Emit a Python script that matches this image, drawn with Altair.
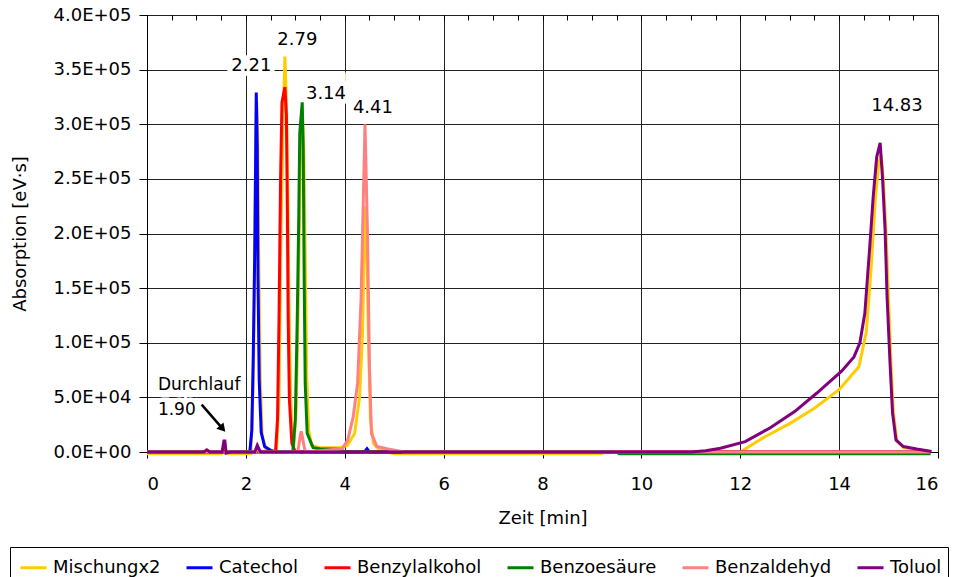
import altair as alt
import pandas as pd

SERIES = ["Mischungx2", "Catechol", "Benzylalkohol", "Benzoesäure", "Benzaldehyd", "Toluol"]
COLORS = ["#FFCC00", "#0000FF", "#FF0000", "#008000", "#FF8080", "#800080"]

# Mischungx2
mix_t = [0.0, 1.50, 1.55, 1.57, 1.60, 1.65, 2.10, 2.15, 2.18, 2.20, 2.22, 2.24, 2.26, 2.29, 2.33, 2.40,
         2.62, 2.67, 2.71, 2.75, 2.79, 2.82, 2.85, 2.87, 2.90, 2.93, 2.97, 3.02, 3.06, 3.10, 3.14, 3.17,
         3.20, 3.23, 3.27, 3.33, 3.50, 3.90, 4.05, 4.20, 4.30, 4.36, 4.40, 4.42, 4.45, 4.48, 4.52, 4.58,
         4.70, 5.00, 9.20, 9.25, 12.00, 12.50, 13.00, 13.50, 14.00, 14.40, 14.55, 14.65, 14.73, 14.80, 14.85,
         14.89, 14.95, 15.00, 15.05, 15.10, 15.17, 15.30, 15.60, 15.85]
mix_v = [-1500, -1500, 6000, 10000, 0, -1500, -1500, 60000, 180000, 290000, 320000, 290000, 180000, 70000, 15000, 3000,
         0, 50000, 200000, 300000, 362000, 320000, 230000, 140000, 60000, 20000, 5000, 40000, 140000, 260000, 310000, 280000,
         180000, 70000, 20000, 6000, 4000, 4000, 6000, 17000, 50000, 110000, 200000, 225000, 180000, 100000, 30000, 8000,
         2000, -1500, -1500, 0, 0, 14000, 26000, 40000, 57000, 78000, 110000, 170000, 230000, 264000, 272000,
         252000, 200000, 140000, 80000, 35000, 10000, 4000, 2000, 500]

# Catechol
cat_t = [0.0, 2.08, 2.12, 2.15, 2.18, 2.20, 2.21, 2.23, 2.245, 2.27, 2.31, 2.38, 2.50, 2.60, 4.40, 4.45, 4.50, 15.85]
cat_v = [0, 0, 20000, 90000, 185000, 280000, 329000, 280000, 160000, 65000, 18000, 5000, 1500, 0, 0, 3000, 0, 0]

# Benzylalkohol
bzl_t = [0.0, 2.60, 2.64, 2.67, 2.70, 2.73, 2.79, 2.82, 2.84, 2.855, 2.88, 2.93, 2.99, 3.05, 15.85]
bzl_v = [0, 0, 30000, 120000, 245000, 320000, 334000, 308000, 216000, 124000, 48000, 8000, 1000, 0, 0]

# Benzoesäure
bzs_t = [0.0, 2.95, 3.00, 3.04, 3.07, 3.09, 3.14, 3.16, 3.18, 3.20, 3.24, 3.36, 3.50, 3.90, 4.00, 9.50, 9.55, 15.85]
bzs_v = [0, 0, 30000, 124000, 216000, 292000, 320000, 277000, 155000, 63000, 17000, 4000, 3000, 2500, 0, 0, -1500, -1500]

# Benzaldehyd
bzd_t = [0.0, 2.20, 2.24, 2.28, 3.05, 3.10, 3.12, 3.15, 3.20, 3.95, 4.06, 4.17, 4.26, 4.33, 4.36, 4.41,
         4.46, 4.50, 4.54, 4.65, 4.85, 5.20, 15.85]
bzd_v = [0, 0, 5000, 0, 0, 15000, 19000, 12000, 0, 3000, 11000, 32000, 63000, 140000, 200000, 300000,
         200000, 78000, 17000, 5000, 3000, 0, 0]

# Toluol
tol_t = [0.0, 1.15, 1.21, 1.27, 1.52, 1.555, 1.575, 1.60, 1.68, 2.18, 2.23, 2.26, 2.30, 11.00, 11.30, 11.60,
         12.10, 12.60, 13.10, 13.55, 14.05, 14.30, 14.42, 14.52, 14.62, 14.69, 14.76, 14.83, 14.88, 14.93,
         14.97, 15.03, 15.08, 15.15, 15.30, 15.57, 15.87]
tol_v = [0, 0, 2000, 0, 0, 10000, 10000, -1000, 0, 0, 6000, 3000, 0, 0, 1200, 3400,
         9500, 22000, 37000, 54000, 74000, 87000, 100000, 127000, 188000, 234000, 270000, 283000, 249000, 203000,
         142000, 81000, 36000, 11000, 5000, 2700, 500]

series_t = [mix_t, cat_t, bzl_t, bzs_t, bzd_t, tol_t]
series_v = [mix_v, cat_v, bzl_v, bzs_v, bzd_v, tol_v]

# Peak labels
peak_text = ["2.21", "2.79", "3.14", "4.41", "14.83"]
peak_t = [2.11, 3.04, 3.62, 4.57, 15.17]
peak_v = [353000, 377000, 328000, 315000, 317000]

# Durchlauf annotation
note_text = ["Durchlauf", "1.90"]
note_t = [0.22, 0.22]
note_v = [61000, 38700]
arrow_t = [1.106, 1.511]
arrow_v = [43300, 22300]

x_major = [0, 2, 4, 6, 8, 10, 12, 14, 16]
x_minor = [i * 0.5 for i in range(33)]
y_ticks = [i * 50000 for i in range(9)]

rows = []
for s, ts, vs in zip(SERIES, series_t, series_v):
    for i, (t, v) in enumerate(zip(ts, vs)):
        rows.append({"series": s, "t": t, "v": v, "i": i})
df = pd.DataFrame(rows)

FONT = "DejaVu Sans"
xscale = alt.Scale(domain=[0, 16], nice=False, zero=False)
yscale = alt.Scale(domain=[0, 400000], nice=False)

xaxis = alt.Axis(values=x_major, format="d", grid=True, gridColor="#222222", gridWidth=1,
                 domainColor="#000000", tickColor="#000000", tickSize=6, labelFontSize=18,
                 labelFont=FONT, labelColor="#000000", labelPadding=17, title="Zeit [min]",
                 titleFont=FONT, titleFontSize=18, titleFontWeight="normal", titleColor="#000000",
                 titlePadding=16)
yaxis = alt.Axis(values=y_ticks, grid=True, gridColor="#222222", gridWidth=1,
                 labelExpr="replace(format(datum.value, '.1e'), 'e+', 'E+0')",
                 domainColor="#000000", tickColor="#000000", tickSize=8, labelFontSize=18,
                 labelFont=FONT, labelColor="#000000", labelPadding=8, title="Absorption [eV·s]",
                 titleFont=FONT, titleFontSize=18, titleFontWeight="normal", titleColor="#000000",
                 titlePadding=24)

legend = alt.Legend(orient="none", legendX=-137, legendY=532, direction="horizontal",
                    title=" ", titleOrient="left", titleFont=FONT, titleFontSize=18, titlePadding=3,
                    symbolType="stroke", symbolSize=676, symbolStrokeWidth=3, labelFont=FONT,
                    labelFontSize=18, labelColor="#000000", labelOffset=5, columnPadding=19,
                    strokeColor="#000000", padding=6, fillColor="#FFFFFF")

layers = []
for s in SERIES:
    layers.append(
        alt.Chart(df).transform_filter(alt.datum.series == s)
        .mark_line(strokeWidth=3)
        .encode(
            x=alt.X("t:Q", scale=xscale, axis=xaxis),
            y=alt.Y("v:Q", scale=yscale, axis=yaxis),
            color=alt.Color("series:N", scale=alt.Scale(domain=SERIES, range=COLORS), legend=legend),
            order="i:Q",
        )
    )

peak_df = pd.DataFrame({"label": peak_text, "t": peak_t, "v": peak_v})
peak_halo = alt.Chart(peak_df).mark_text(font=FONT, fontSize=18, stroke="white", strokeWidth=9,
                                         fill="white", align="center", baseline="middle").encode(
    x=alt.X("t:Q", scale=xscale), y=alt.Y("v:Q", scale=yscale), text="label:N")
peak_lbl = alt.Chart(peak_df).mark_text(font=FONT, fontSize=18, color="#000000",
                                        align="center", baseline="middle").encode(
    x=alt.X("t:Q", scale=xscale), y=alt.Y("v:Q", scale=yscale), text="label:N")

note_df = pd.DataFrame({"label": note_text, "t": note_t, "v": note_v})
note_halo = alt.Chart(note_df).mark_text(font=FONT, fontSize=17, stroke="white", strokeWidth=9,
                                         fill="white", align="left", baseline="middle").encode(
    x=alt.X("t:Q", scale=xscale), y=alt.Y("v:Q", scale=yscale), text="label:N")
note_lbl = alt.Chart(note_df).mark_text(font=FONT, fontSize=17, color="#000000",
                                        align="left", baseline="middle").encode(
    x=alt.X("t:Q", scale=xscale), y=alt.Y("v:Q", scale=yscale), text="label:N")

arrow_df = pd.DataFrame({"t": arrow_t, "v": arrow_v, "i": [0, 1]})
arrow_line = alt.Chart(arrow_df).mark_line(color="#000000", strokeWidth=2.5).encode(
    x=alt.X("t:Q", scale=xscale), y=alt.Y("v:Q", scale=yscale), order="i:Q")
arrow_head = alt.Chart(arrow_df).transform_filter(alt.datum.i == 1).mark_point(
    shape="triangle", filled=True, color="#000000", size=90, angle=139, opacity=1).encode(
    x=alt.X("t:Q", scale=xscale), y=alt.Y("v:Q", scale=yscale))

main = alt.layer(*layers, peak_halo, peak_lbl, note_halo, note_lbl, arrow_line, arrow_head)

minor_df = pd.DataFrame({"t": x_minor})
minor = alt.Chart(minor_df).mark_point(opacity=0).encode(
    x=alt.X("t:Q", scale=xscale,
            axis=alt.Axis(values=x_minor, labels=False, grid=False, domain=False, tickSize=5,
                          offset=-5, tickColor="#000000", title=None)))

chart = alt.layer(main, minor).resolve_axis(x="independent").properties(
    width=791, height=437,
    autosize=alt.AutoSizeParams(type="none"),
    padding={"left": 147, "top": 15, "right": 18, "bottom": 125},
).configure_view(stroke="#222222", strokeWidth=1).configure(background="white")

chart.save("out.html", embed_options={"renderer": "svg", "actions": False})
